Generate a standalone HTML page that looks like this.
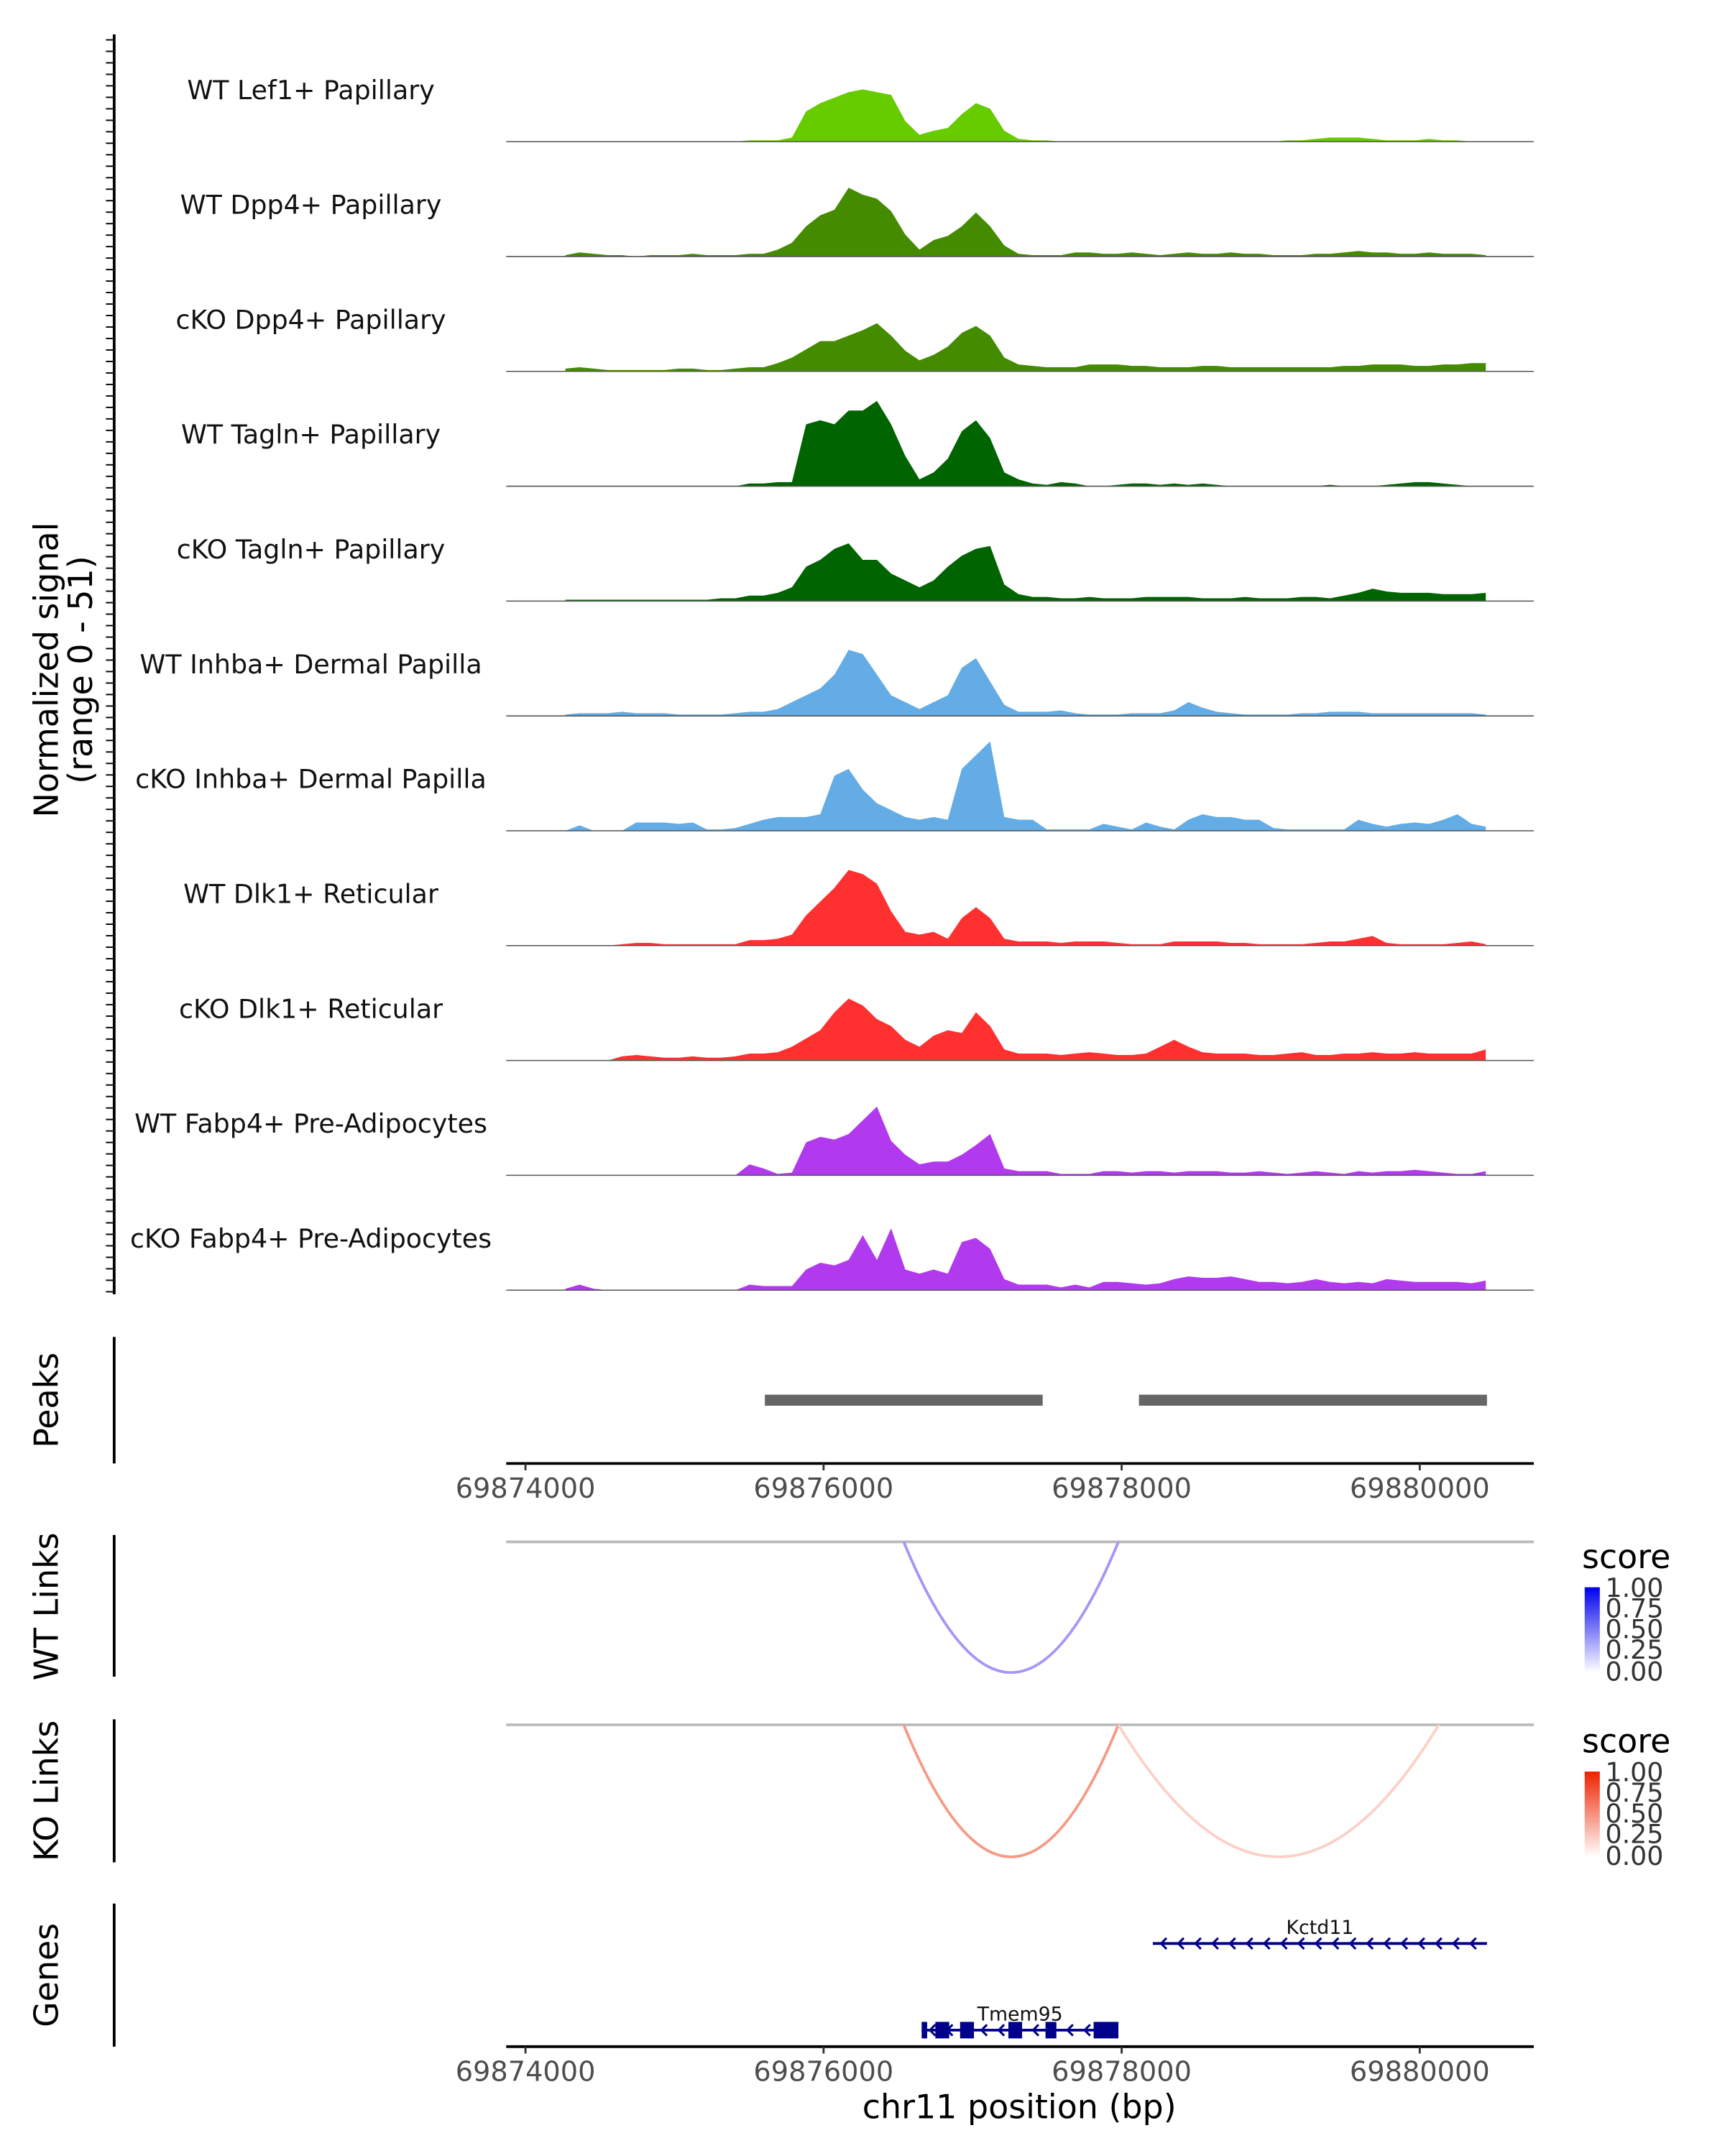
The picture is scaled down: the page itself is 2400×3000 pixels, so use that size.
<!DOCTYPE html>
<html><head><meta charset="utf-8">
<style>
html,body{margin:0;padding:0;background:#fff;}
svg{display:block;}
text{font-family:"DejaVu Sans","Liberation Sans",sans-serif;}
</style></head>
<body>
<svg id="chart" width="2400" height="3000" viewBox="0 0 1254 1567.5" preserveAspectRatio="none" xmlns="http://www.w3.org/2000/svg">
<defs>
<linearGradient id="gBlue" x1="0" y1="1" x2="0" y2="0"><stop offset="0" stop-color="#ffffff"/><stop offset="1" stop-color="#0000ee"/></linearGradient>
<linearGradient id="gRed" x1="0" y1="1" x2="0" y2="0"><stop offset="0" stop-color="#ffffff"/><stop offset="1" stop-color="#ee2200"/></linearGradient>
</defs>
<g id="tracks"></g>
<line x1="83" y1="25" x2="83" y2="941" stroke="#000" stroke-width="2"/>
<g id="yticks"></g>
<text transform="translate(42,487) rotate(-90)" text-anchor="middle" font-size="24">Normalized signal</text>
<text transform="translate(67,487) rotate(-90)" text-anchor="middle" font-size="24">(range 0 - 51)</text>

<line x1="83" y1="972" x2="83" y2="1064" stroke="#000" stroke-width="2"/>
<text transform="translate(42,1018) rotate(-90)" text-anchor="middle" font-size="24">Peaks</text>
<g id="peaks"></g>
<g id="axis1"></g>

<line x1="83" y1="1116" x2="83" y2="1219" stroke="#000" stroke-width="2"/>
<text transform="translate(42,1168) rotate(-90)" text-anchor="middle" font-size="24">WT Links</text>
<line x1="83" y1="1250" x2="83" y2="1354" stroke="#000" stroke-width="2"/>
<text transform="translate(42,1302) rotate(-90)" text-anchor="middle" font-size="24">KO Links</text>
<g id="links"></g>

<g>
<text x="1150" y="1140" font-size="24" fill="#000">score</text>
<rect x="1152" y="1154" width="11" height="62" fill="url(#gBlue)"/>
<text x="1167" y="1161" font-size="19" fill="#333">1.00</text>
<text x="1167" y="1176" font-size="19" fill="#333">0.75</text>
<text x="1167" y="1191" font-size="19" fill="#333">0.50</text>
<text x="1167" y="1206" font-size="19" fill="#333">0.25</text>
<text x="1167" y="1222" font-size="19" fill="#333">0.00</text>
</g>
<g>
<text x="1150" y="1274" font-size="24" fill="#000">score</text>
<rect x="1152" y="1288" width="11" height="62" fill="url(#gRed)"/>
<text x="1167" y="1295" font-size="19" fill="#333">1.00</text>
<text x="1167" y="1310" font-size="19" fill="#333">0.75</text>
<text x="1167" y="1325" font-size="19" fill="#333">0.50</text>
<text x="1167" y="1340" font-size="19" fill="#333">0.25</text>
<text x="1167" y="1356" font-size="19" fill="#333">0.00</text>
</g>

<line x1="83" y1="1384" x2="83" y2="1488" stroke="#000" stroke-width="2"/>
<text transform="translate(42,1436) rotate(-90)" text-anchor="middle" font-size="24">Genes</text>
<g id="genes"></g>
<g id="axis2"></g>
<text x="741" y="1540" text-anchor="middle" font-size="24">chr11 position (bp)</text>
</svg>
<script>
const trackNames = ["WT Lef1+ Papillary","WT Dpp4+ Papillary","cKO Dpp4+ Papillary","WT Tagln+ Papillary","cKO Tagln+ Papillary","WT Inhba+ Dermal Papilla","cKO Inhba+ Dermal Papilla","WT Dlk1+ Reticular","cKO Dlk1+ Reticular","WT Fabp4+ Pre-Adipocytes","cKO Fabp4+ Pre-Adipocytes"];
const trackColors = ["#66cc00","#458b00","#458b00","#006400","#006400","#63ace5","#63ace5","#ff3030","#ff3030","#b23aee","#b23aee"];
const binStart = 69874268;
const binSize = 95;
const sigLef1WT = [0,0,0,0,0,0,0,0,0,0,0,0,0,1,1,1, 3,22,28,32,36,38,36,34,15,5,8,10,20,28,24,8,2, 1,1,0,0,0,0,0,0,0,0,0,0,0,0,0,0,0,0,1,1,2,3,3,3,2,1,1,1,2,1,1,0,0];
const sigDpp4WT = [1,3,2,1,1,0,1,1,1,2,1,1,1,2,2,5, 10,22,30,34,50,45,42,33,16,5,12,15,22,32,22,8,2, 1,1,1,3,3,2,2,3,2,1,2,3,2,2,3,2,2,1,1,1,2,2,3,4,3,3,2,2,3,2,2,2,1];
const sigDpp4KO = [2,3,2,1,1,1,1,1,2,2,1,1,2,3,3,6, 10,16,22,22,26,30,35,26,15,8,12,18,28,33,26,10,5, 4,3,3,3,5,5,5,4,4,3,3,3,4,4,3,3,3,3,3,3,3,3,4,4,5,5,5,4,4,5,5,6,6];
const sigTaglnWT = [0,0,0,0,0,0,0,0,0,0,0,0,0,2,2,3, 3,45,48,45,55,55,62,45,22,5,10,20,40,48,35,10,5, 2,1,3,2,0,0,1,2,2,1,2,1,2,1,0,0,0,0,0,0,0,1,0,0,0,1,2,3,3,2,1,0,0];
const sigTaglnKO = [1,1,1,1,1,1,1,1,1,1,1,2,2,4,4,6, 10,25,30,38,42,30,30,20,15,10,15,25,33,38,40,12,5, 3,3,2,2,3,2,2,2,3,3,3,3,2,2,2,3,2,2,2,3,3,2,4,6,9,7,6,6,6,5,5,5,6];
const sigInhbaWT = [1,2,2,2,3,2,2,2,1,1,1,1,2,3,3,5, 10,15,20,30,48,45,30,15,10,5,10,15,35,42,25,8,3, 3,3,4,2,1,1,1,2,2,2,4,10,6,3,2,1,1,1,1,2,2,3,3,3,2,2,2,2,2,2,2,2,1];
const sigInhbaKO = [0,4,0,0,0,6,6,6,5,6,1,1,2,5,8,10, 10,10,12,40,45,30,20,15,10,8,10,8,45,55,65,10,8, 8,1,1,1,1,5,3,1,6,3,1,8,12,10,10,8,8,2,1,1,1,1,1,8,5,3,5,6,5,8,12,5,3];
const sigDlk1WT = [0,0,0,0,1,2,2,1,1,1,1,1,1,4,4,5, 8,22,32,42,55,52,45,25,10,8,10,5,20,28,20,5,3, 3,3,2,3,3,3,2,1,1,1,3,3,3,3,2,2,1,1,1,1,2,3,3,5,7,2,1,1,1,1,2,3,1];
const sigDlk1KO = [0,0,0,0,3,4,3,2,2,3,2,2,3,5,5,6, 10,16,22,35,45,40,30,25,15,10,18,22,20,35,25,8,5, 5,5,4,5,6,5,4,4,5,10,15,10,6,5,5,5,4,4,5,6,4,4,5,5,6,5,5,6,5,5,5,5,8];
const sigFabp4WT = [0,0,0,0,0,0,0,0,0,0,0,0,0,8,5,1, 2,24,28,26,30,40,50,25,15,8,10,10,15,22,30,5,3, 3,3,1,1,1,3,3,2,3,3,2,3,3,3,2,2,3,2,1,2,3,2,1,3,2,3,3,4,3,2,1,1,3];
const sigFabp4KO = [1,4,1,0,0,0,0,0,0,0,0,0,0,4,3,3, 3,15,20,18,22,40,22,45,15,12,15,12,35,38,30,8,4, 4,4,2,4,2,6,6,5,4,5,8,10,9,9,10,8,6,6,5,6,8,6,5,6,5,8,7,6,6,6,6,5,7];
const signals = [sigLef1WT,sigDpp4WT,sigDpp4KO,sigTaglnWT,sigTaglnKO,sigInhbaWT,sigInhbaKO,sigDlk1WT,sigDlk1KO,sigFabp4WT,sigFabp4KO];
const xTicks = [69874000,69876000,69878000,69880000];
const peakStarts = [69875606,69878116];
const peakEnds = [69877470,69880451];
const linkStarts = [69876538];
const linkEnds = [69877978];
const linkScoresWT = [0.45];
const koLinkStarts = [69876538,69877978];
const koLinkEnds = [69877978,69880128];
const koLinkScores = [0.55,0.25];
const geneNames = ["Kctd11","Tmem95"];
const geneStarts = [69878209,69876658];
const geneEnds = [69880451,69877978];
const tmemExonStarts = [69876658,69876750,69876916,69877240,69877489,69877812];
const tmemExonEnds = [69876695,69876843,69877009,69877332,69877562,69877978];

const NS="http://www.w3.org/2000/svg";
const X0=382, PXBP=0.10835, plotL=368, plotR=1115;
function xs(bp){return X0+(bp-69874000)*PXBP;}
const yMax=80, trackH=80, base0=103, trackStep=83.5;
function mk(tag,attrs,parent){const e=document.createElementNS(NS,tag);for(const k in attrs)e.setAttribute(k,attrs[k]);parent.appendChild(e);return e;}

const tg=document.getElementById('tracks');
signals.forEach((arr,t)=>{
  const base=base0+t*trackStep;
  let d=`M${xs(binStart)},${base}`;
  arr.forEach((v,i)=>{d+=` L${xs(binStart+i*binSize).toFixed(1)},${(base-v/yMax*trackH).toFixed(1)}`;});
  d+=` L${xs(binStart+(arr.length-1)*binSize).toFixed(1)},${base} Z`;
  const p=mk('path',{d:d,fill:trackColors[t]},tg);
  
  
  const l=mk('line',{x1:plotL,x2:plotR,y1:base,y2:base,stroke:'#555','stroke-width':0.8},tg);
  
  
  const tx=mk('text',{x:226,y:base-31,'text-anchor':'middle','font-size':19,fill:'#111'},tg);
  tx.textContent=trackNames[t];
  
  
});
const yt=document.getElementById('yticks');
for(let y=29;y<=940;y+=8.35){
  const l=mk('line',{x1:77,x2:83,y1:y,y2:y,stroke:'#000','stroke-width':1},yt);
  
  
}
const pg=document.getElementById('peaks');
peakStarts.forEach((s,i)=>{
  const r=mk('rect',{x:xs(s),y:1014,width:xs(peakEnds[i])-xs(s),height:8,fill:'#666'},pg);
  
  
});
function axis(id,y){
  const g=document.getElementById(id);
  mk('line',{x1:plotL,x2:plotR,y1:y,y2:y,stroke:'#000','stroke-width':2},g);
  xTicks.forEach(t=>{
    mk('line',{x1:xs(t),x2:xs(t),y1:y,y2:y+5,stroke:'#333','stroke-width':1.5},g);
    const tx=mk('text',{x:xs(t),y:y+25,'text-anchor':'middle','font-size':20,fill:'#4d4d4d'},g);
    tx.textContent=t;
    
    
  });
}
axis('axis1',1064); axis('axis2',1488);
const lg=document.getElementById('links');
function arcs(starts,ends,scores,base,depth,c0,c1){
  mk('line',{x1:plotL,x2:plotR,y1:base,y2:base,stroke:'#bbb','stroke-width':2},lg);
  starts.forEach((s,i)=>{
    const a=xs(s),b=xs(ends[i]);const s2=scores[i];
    const col=`rgb(${Math.round(c0[0]+(c1[0]-c0[0])*s2)},${Math.round(c0[1]+(c1[1]-c0[1])*s2)},${Math.round(c0[2]+(c1[2]-c0[2])*s2)})`;
    const p=mk('path',{d:`M${a},${base} Q${(a+b)/2},${base+2*depth} ${b},${base}`,fill:'none',stroke:col,'stroke-width':2},lg);
    
    
  });
}
arcs(linkStarts,linkEnds,linkScoresWT,1121,95,[255,255,255],[60,20,240]);
arcs(koLinkStarts,koLinkEnds,koLinkScores,1254,96,[255,255,255],[240,70,30]);
const gg=document.getElementById('genes');
const gy=[1413,1476];
geneNames.forEach((n,i)=>{
  const a=xs(geneStarts[i]),b=xs(geneEnds[i]),y=gy[i];
  mk('line',{x1:a,x2:b,y1:y,y2:y,stroke:'#00008b','stroke-width':2},gg);
  for(let x=a+6;x<b-3;x+=12.5){mk('path',{d:`M${x+4},${y-4} L${x},${y} L${x+4},${y+4}`,fill:'none',stroke:'#00008b','stroke-width':1.6},gg);}
  const tx=mk('text',{x:(a+b)/2,y:y-7,'text-anchor':'middle','font-size':14,fill:'#111'},gg);
  tx.textContent=n;
  
  
});
tmemExonStarts.forEach((s,i)=>{
  const r=mk('rect',{x:xs(s),y:1470,width:xs(tmemExonEnds[i])-xs(s),height:12,fill:'#00008b'},gg);
  
  
});
</script>
</body></html>
